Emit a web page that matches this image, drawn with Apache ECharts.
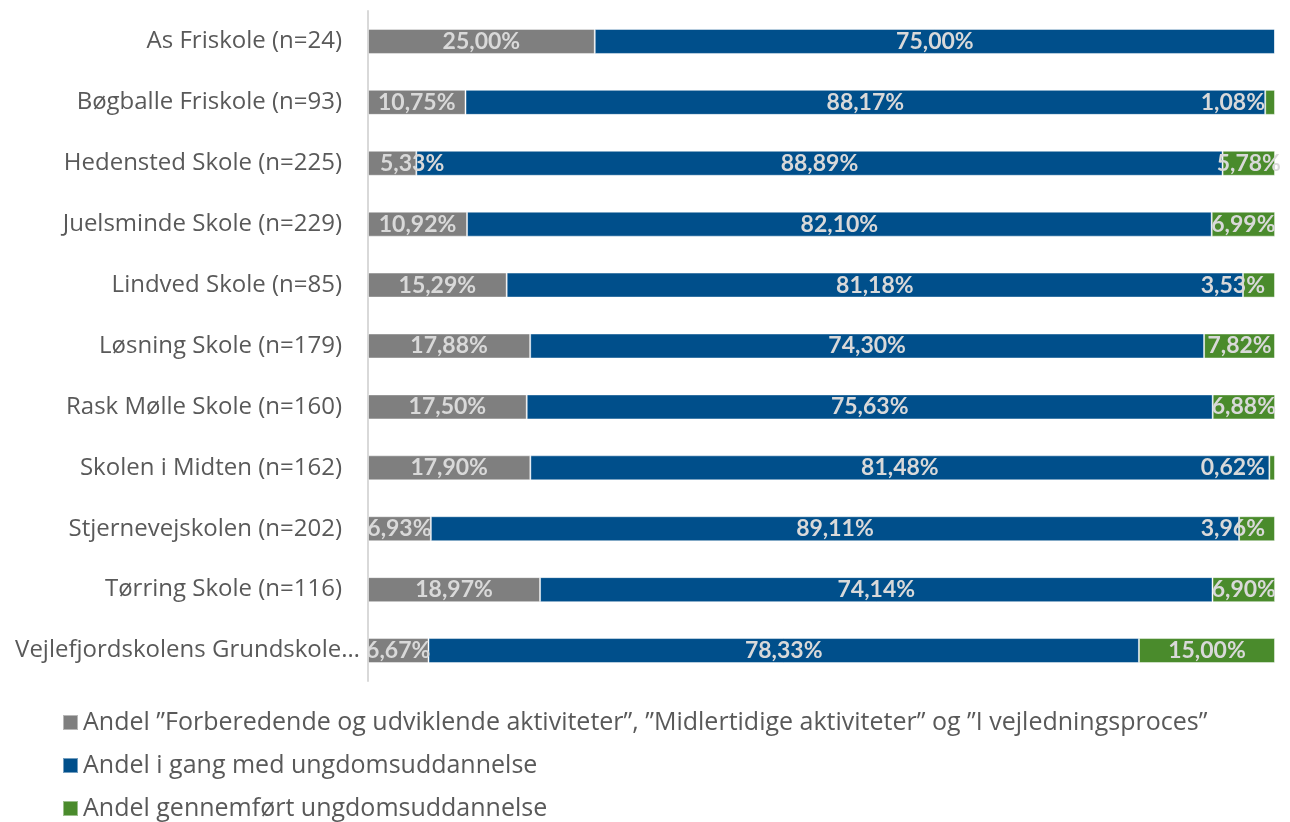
<!DOCTYPE html>
<html>
<head>
<meta charset="utf-8">
<script src="https://cdn.jsdelivr.net/npm/echarts@6/dist/echarts.min.js"></script>
<style>
html,body{margin:0;padding:0;background:#fff;}
#chart{width:1290px;height:822px;}
</style>
</head>
<body>
<div id="chart"></div>
<script>
const categories = [
  'As Friskole (n=24)',
  'Bøgballe Friskole (n=93)',
  'Hedensted Skole (n=225)',
  'Juelsminde Skole (n=229)',
  'Lindved Skole (n=85)',
  'Løsning Skole (n=179)',
  'Rask Mølle Skole (n=160)',
  'Skolen i Midten (n=162)',
  'Stjernevejskolen (n=202)',
  'Tørring Skole (n=116)',
  'Vejlefjordskolens Grundskole…'
];
const seriesNames = [
  'Andel ”Forberedende og udviklende aktiviteter”, ”Midlertidige aktiviteter” og ”I vejledningsproces”',
  'Andel i gang med ungdomsuddannelse',
  'Andel gennemført ungdomsuddannelse'
];
const forberedende = [25.00, 10.75, 5.33, 10.92, 15.29, 17.88, 17.50, 17.90, 6.93, 18.97, 6.67];
const iGang = [75.00, 88.17, 88.89, 82.10, 81.18, 74.30, 75.63, 81.48, 89.11, 74.14, 78.33];
const gennemfort = [0, 1.08, 5.78, 6.99, 3.53, 7.82, 6.88, 0.62, 3.96, 6.90, 15.00];

const colors = ['#7f7f7f', '#004f8b', '#4a8b2c'];
const LABEL_FONT = 'Lato, "Open Sans", sans-serif';
const TEXT_FONT = '"Open Sans", Lato, sans-serif';
const GRID_LEFT = 368;

function fmt(p) {
  if (!p.value) return '';
  return p.value.toFixed(2).replace('.', ',') + '%';
}

const chart = echarts.init(document.getElementById('chart'), null, {renderer: 'canvas'});

function makeSeries(i, data) {
  return {
    name: seriesNames[i],
    type: 'bar',
    stack: 'total',
    barWidth: 25,
    data: data,
    itemStyle: {color: colors[i], borderColor: 'rgba(255,255,255,0.45)', borderWidth: 1},
    label: {
      show: true,
      position: 'inside',
      formatter: fmt,
      color: '#d9d9d9',
      fontFamily: LABEL_FONT,
      fontWeight: 'bold',
      fontSize: 23
    },
    labelLayout: function (params) {
      const r = params.labelRect;
      if (r.x + r.width > 1282) {
        return {dx: 1265 - (r.x + r.width)};
      }
      if (r.x < GRID_LEFT - 4) {
        return {dx: GRID_LEFT + 12 - r.x};
      }
      return {};
    }
  };
}

function makeLegend(i, top) {
  return {
    orient: 'vertical',
    left: 62,
    top: top,
    padding: 0,
    itemWidth: 15,
    itemHeight: 15,
    icon: 'rect',
    textStyle: {color: '#595959', fontSize: 25, fontFamily: TEXT_FONT},
    data: [seriesNames[i]]
  };
}

const yAxisData = categories.map(function (c, i) {
  return i === categories.length - 1
    ? {value: c, textStyle: {padding: [0, -18, 0, 0]}}
    : c;
});

chart.setOption({
  animation: false,
  textStyle: {fontFamily: TEXT_FONT},
  grid: {left: GRID_LEFT, right: 15, top: 11, bottom: 141, containLabel: false, outerBoundsMode: 'none'},
  legend: [makeLegend(0, 710), makeLegend(1, 753), makeLegend(2, 796)],
  xAxis: {
    type: 'value',
    min: 0,
    max: 100,
    show: false
  },
  yAxis: {
    type: 'category',
    inverse: true,
    data: yAxisData,
    axisLine: {show: true, lineStyle: {color: '#d9d9d9', width: 2}},
    axisTick: {show: false},
    axisLabel: {color: '#595959', fontSize: 24, fontFamily: TEXT_FONT, margin: 26}
  },
  series: [
    makeSeries(0, forberedende),
    makeSeries(1, iGang),
    makeSeries(2, gennemfort)
  ]
});
</script>
</body>
</html>
